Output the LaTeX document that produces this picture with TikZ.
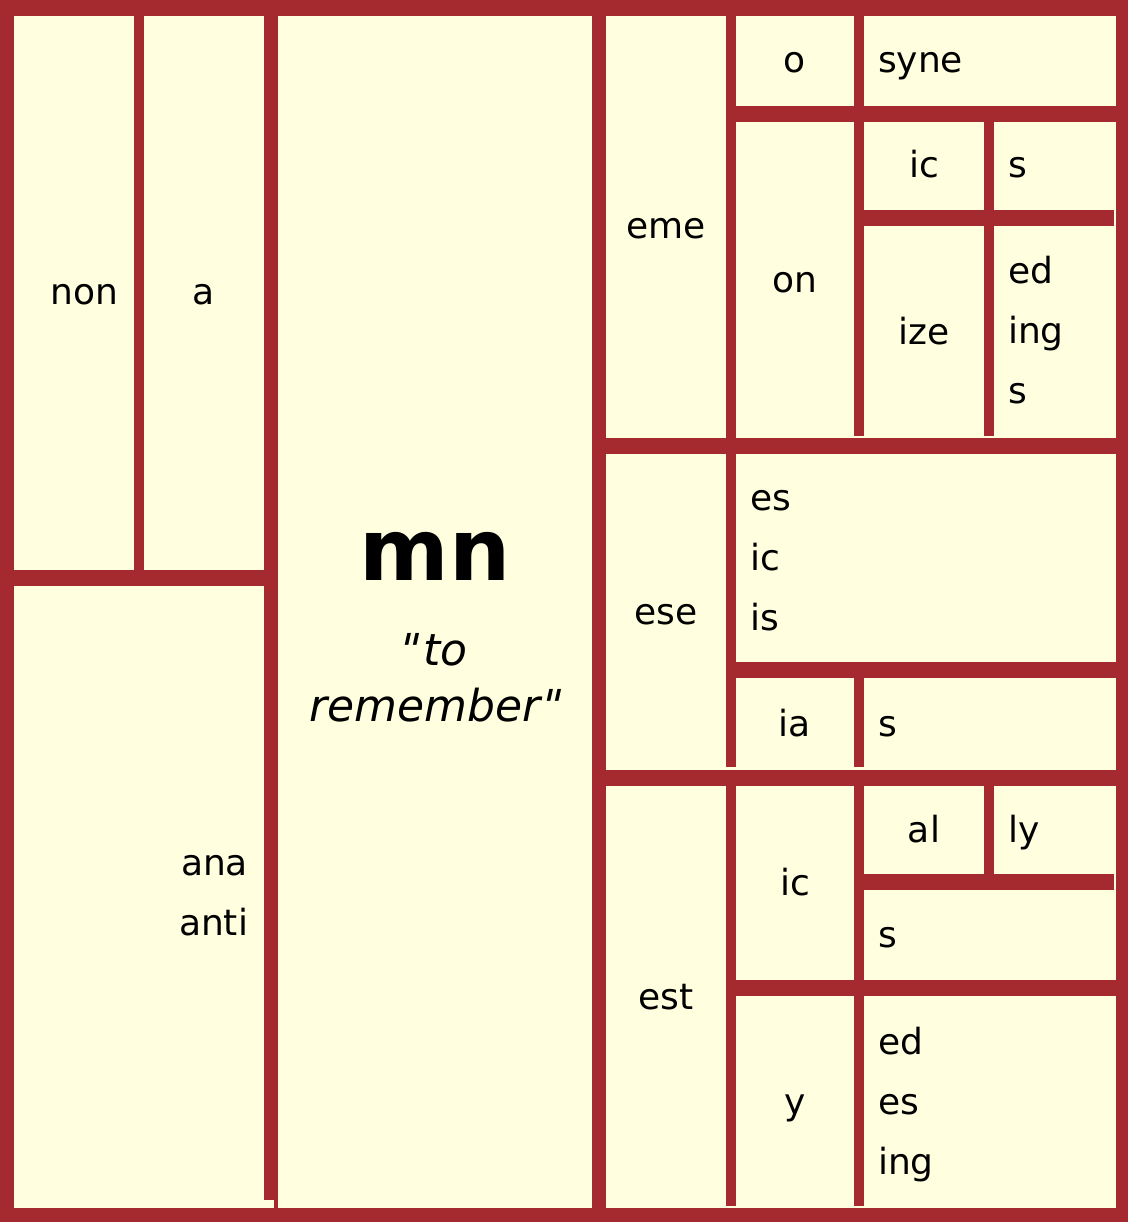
\documentclass[tikz,border=0pt]{standalone}
\usepackage{fontspec}
\setmainfont{DejaVu Sans}
\newfontfamily\quotefont{DejaVu Sans}[FakeSlant=0.22, Ligatures=TeXOff]
\usepackage{tikz}
\newcommand{\openquote}{{\quotefont\kern-0.14em"\kern0.14em}}
\newcommand{\closequote}{{\quotefont\kern-0.05em"\kern0.05em}}
\definecolor{cellred}{RGB}{165,42,48}
\definecolor{cellcream}{RGB}{255,255,224}
\tikzset{
    cell/.style 2 args={
        fill=cellcream,
        inner sep=0pt,
        minimum width=#1pt,
        minimum height=#2pt,
        font={\fontsize{36}{60}\selectfont},
        execute at begin node=\strut,
        execute at end node=\strut,
    },
    leftcell/.style={
        align=left,
        inner xsep=14pt,
        text width=#1pt,
    },
    rightcell/.style={
        align=right,
        inner xsep=16pt,
        text width=#1pt,
    },
    rootword/.style={
        font={\fontsize{86}{100}\selectfont\bfseries},
        inner sep=0pt,
    },
    gloss/.style={
        font={\fontsize{44}{56}\selectfont\itshape},
        inner sep=0pt,
    },
    gap/.style={fill=cellcream},
}

\begin{document}
\begin{tikzpicture}[x=1pt,y=-1pt]
    \useasboundingbox (0,0) rectangle (1128,1222);
    \fill[cellred] (0,0) rectangle (1128,1222);

    % prefixes
    \node[cell={120}{554}, rightcell=88] (non) at (74,293) {non};
    \node[cell={120}{554}] (a) at (204,293) {a};
    \node[cell={250}{614}, rightcell=218] (ana) at (139,893) {ana\\anti};
    \fill[gap] (14,1200) rectangle (274,1208);

    % root
    \node[cell={314}{1192}] (mn) at (435,612) {};
    \node[rootword, anchor=base] (root) at (435,580) {mn};
    \node[gloss, anchor=base] (glossto) at (435,665) {\openquote to};
    \node[gloss, anchor=base] (glossrem) at (435,721) {remember\closequote};

    % eme
    \node[cell={120}{422}] (eme) at (666,227) {eme};
    \node[cell={118}{90}] (emeo) at (795,61) {o};
    \node[cell={252}{90}, leftcell=224] (emeosyne) at (990,61) {syne};
    \node[cell={118}{316}] (emeon) at (795,280) {on};
    \node[cell={120}{88}] (emeonic) at (924,166) {ic};
    \node[cell={122}{88}, leftcell=94] (emeonics) at (1055,166) {s};
    \node[cell={120}{212}] (emeonize) at (924,332) {ize};
    \node[cell={122}{212}, leftcell=94] (emeonizeend) at (1055,332) {ed\\ing\\s};

    % ese
    \node[cell={120}{316}] (ese) at (666,612) {ese};
    \node[cell={380}{208}, leftcell=352] (eseend) at (926,558) {es\\ic\\is};
    \node[cell={118}{92}] (eseia) at (795,724) {ia};
    \node[cell={252}{92}, leftcell=224] (eseias) at (990,724) {s};

    % est
    \node[cell={120}{422}] (est) at (666,997) {est};
    \node[cell={118}{194}] (estic) at (795,883) {ic};
    \node[cell={120}{88}] (estical) at (924,830) {al};
    \node[cell={122}{88}, leftcell=94] (esticaly) at (1055,830) {ly};
    \node[cell={252}{90}, leftcell=224] (estics) at (990,935) {s};
    \node[cell={118}{212}] (esty) at (795,1102) {y};
    \node[cell={252}{212}, leftcell=224] (estyend) at (990,1102) {ed\\es\\ing};

    % short bars
    \foreach \xa/\ya/\xb/\yb in {854/436/864/438, 984/436/994/438,
        726/767/736/770, 854/767/864/770, 726/1206/736/1208,
        854/1206/864/1208, 1114/210/1116/226, 1114/874/1116/890}
        \fill[gap] (\xa,\ya) rectangle (\xb,\yb);
\end{tikzpicture}
\end{document}
